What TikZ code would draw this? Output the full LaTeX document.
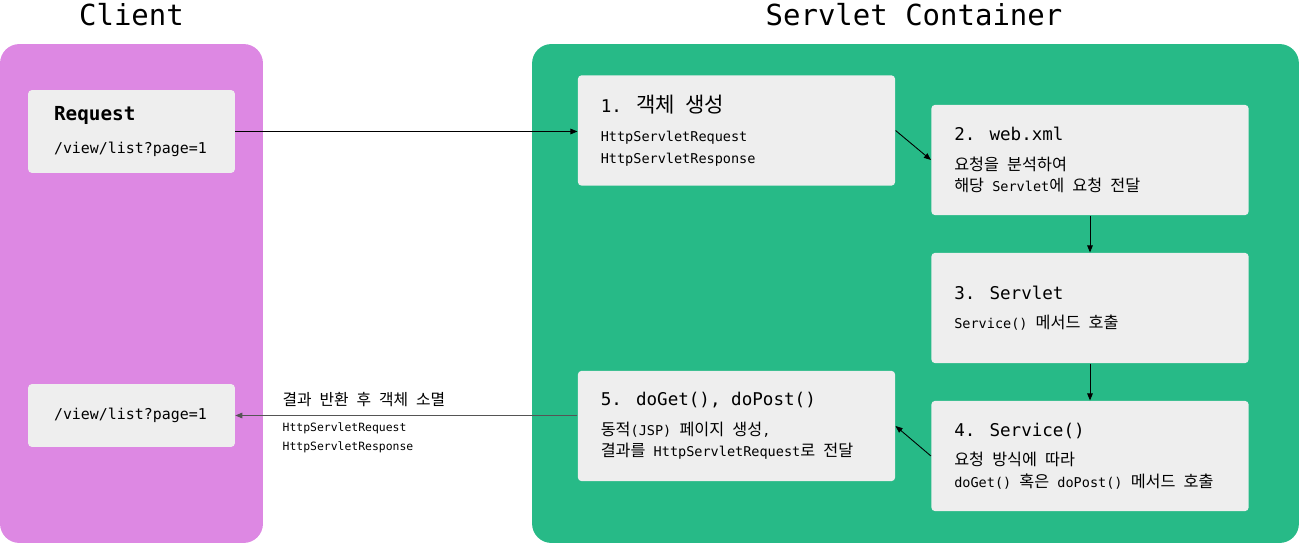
\documentclass[tikz,border=0pt]{standalone}
\usepackage{fontspec}
\setmainfont{DejaVu Sans Mono}
\newfontfamily\kr[Scale=1.2]{Noto Sans CJK KR}
\usetikzlibrary{arrows.meta,positioning,calc}
\definecolor{clientcol}{HTML}{DD88E3}
\definecolor{contcol}{HTML}{27BA87}
\definecolor{boxcol}{HTML}{EEEEEE}
\definecolor{retcol}{HTML}{555555}
\newcommand{\ttl}[1]{{\fontsize{10}{12}\selectfont #1}}

\begin{document}
\begin{tikzpicture}[x=0.02cm, y=-0.02cm,
  panel/.style={rounded corners=11pt, minimum height=9.98cm, inner sep=0pt},
  head/.style={font=\fontsize{16.5}{20}\selectfont},
  box/.style={fill=boxcol, rounded corners=2.3pt, inner xsep=0.46cm, inner ysep=0pt,
              text width=5.43cm, minimum height=2.21cm, align=flush left,
              font=\fontsize{7.7}{12.3}\selectfont},
  req/.style={fill=boxcol, rounded corners=2.3pt, inner xsep=0.52cm, inner ysep=0pt,
              text width=3.1cm, minimum height=1.66cm, align=flush left,
              font=\fontsize{8.5}{13}\selectfont},
  edge/.style={-{Triangle[length=4pt,width=3.2pt]}, line width=0.5pt},
  elbl/.style={inner xsep=0pt, align=left}
]
  \useasboundingbox (0,0) rectangle (1299,543);

  % panels
  \node[panel, fill=clientcol, minimum width=5.26cm] (client) at (131.5,293.5) {};
  \node[panel, fill=contcol, minimum width=15.34cm] (cont) at (915.5,293.5) {};
  \node[head] (clientttl) at (131.5,15) {Client};
  \node[head] (contttl) at (914,15) {Servlet Container};

  % client side
  \node[req] (req) at (131.5,131.5) {{\fontsize{11}{13}\selectfont\bfseries Request}\\[6pt] /view/list?page=1};
  \node[req, minimum height=1.26cm] (resp) at (131.5,415.5) {/view/list?page=1};

  % container steps
  \node[box] (b1) at (736.5,130.5) {\ttl{1. {\kr 객체} {\kr 생성}}\\[4.5pt]
    HttpServletRequest\\ HttpServletResponse};
  \node[box] (b2) at (1090,160) {\ttl{2. web.xml}\\[4.5pt]
    {\kr 요청을} {\kr 분석하여}\\ {\kr 해당} Servlet{\kr 에} {\kr 요청} {\kr 전달}};
  \node[box] (b3) at (1090,308) {\ttl{3. Servlet}\\[4.5pt]
    Service() {\kr 메서드} {\kr 호출}};
  \node[box] (b4) at (1090,456) {\ttl{4. Service()}\\[4.5pt]
    {\kr 요청} {\kr 방식에} {\kr 따라}\\ doGet() {\kr 혹은} doPost() {\kr 메서드} {\kr 호출}};
  \node[box] (b5) at (736.5,426) {\ttl{5. doGet(), doPost()}\\[4.5pt]
    {\kr 동적}(JSP) {\kr 페이지} {\kr 생성},\\ {\kr 결과를} HttpServletRequest{\kr 로} {\kr 전달}};

  \draw[edge] (req.east) -- (req.east -| b1.west);
  \draw[edge] (b1.east) -- (b2.west);
  \draw[edge] (b2) -- (b3);
  \draw[edge] (b3) -- (b4);
  \draw[edge] (b4.west) -- (b5.east);
  \draw[edge, draw=retcol] (resp.east -| b5.west) -- (resp.east)
    node[elbl, pos=0.863, anchor=south west, inner ysep=5pt, font=\fontsize{7.5}{9}\selectfont] (retlbl)
      {{\kr 결과} {\kr 반환} {\kr 후} {\kr 객체} {\kr 소멸}}
    node[elbl, pos=0.863, anchor=north west, inner ysep=4pt, font=\fontsize{6.5}{10.8}\selectfont] (retobj)
      {HttpServletRequest\\ HttpServletResponse};
\end{tikzpicture}
\end{document}
